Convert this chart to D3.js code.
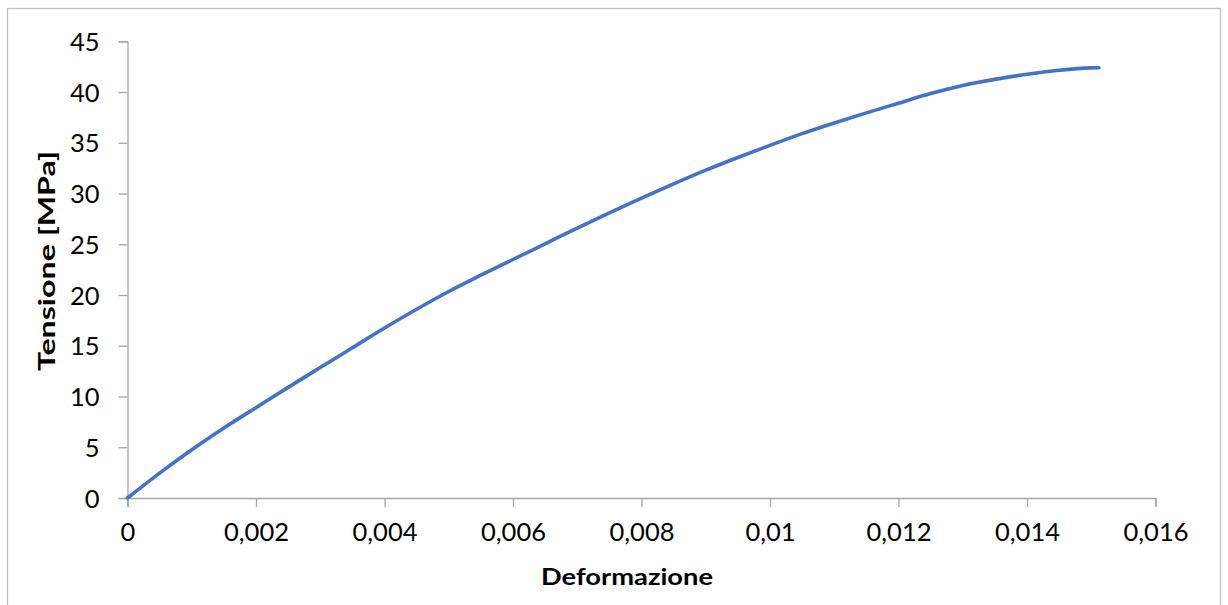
<!DOCTYPE html>
<html>
<head>
<meta charset="utf-8">
<script src="https://cdn.jsdelivr.net/npm/d3@7"></script>
<style>
  html, body { margin: 0; padding: 0; background: #fff; }
  svg { display: block; }
  text { font-family: Lato, "Open Sans", sans-serif; fill: #000; }
</style>
</head>
<body>
<svg id="chart" width="1228" height="605"></svg>
<script>
// Strain (Deformazione) and stress (Tensione, MPa) of the tensile test
const strain = [0, 0.0005, 0.001, 0.0015, 0.002, 0.0025, 0.003, 0.0035, 0.004, 0.0045,
  0.005, 0.0055, 0.006, 0.0065, 0.007, 0.0075, 0.008, 0.0085, 0.009, 0.0095,
  0.01, 0.0105, 0.011, 0.0115, 0.012, 0.0125, 0.013, 0.0135, 0.014, 0.0145,
  0.015, 0.01512];
const stress = [0, 2.45, 4.75, 6.9, 8.9, 10.9, 12.85, 14.8, 16.75, 18.6,
  20.35, 21.95, 23.5, 25.05, 26.6, 28.1, 29.55, 30.95, 32.3, 33.55,
  34.75, 35.9, 36.95, 37.95, 38.9, 39.85, 40.65, 41.25, 41.75, 42.15,
  42.38, 42.39];

const xTicks = [0, 0.002, 0.004, 0.006, 0.008, 0.01, 0.012, 0.014, 0.016];
const yTicks = [0, 5, 10, 15, 20, 25, 30, 35, 40, 45];
const xTitle = "Deformazione";
const yTitle = "Tensione [MPa]";

const svg = d3.select("#chart");
const axisColor = "#a6a6a6";

// Outer chart frame
svg.append("rect")
  .attr("x", 7.5).attr("y", 8.5)
  .attr("width", 1213).attr("height", 620)
  .attr("fill", "none").attr("stroke", "#bfbfbf").attr("stroke-width", 1.3);

const x = d3.scaleLinear().domain([0, 0.016]).range([127.5, 1155.5]);
const y = d3.scaleLinear().domain([0, 45]).range([498, 41.3]);

const fmt = d => d === 0 ? "0" : String(+d.toFixed(3)).replace(".", ",");

// X axis
const gx = svg.append("g")
  .attr("transform", `translate(0,${y(0)})`)
  .call(d3.axisBottom(x).tickValues(xTicks).tickSize(9).tickPadding(16).tickFormat(fmt));
// Y axis
const gy = svg.append("g")
  .attr("transform", `translate(${x(0)},0)`)
  .call(d3.axisLeft(y).tickValues(yTicks).tickSize(9).tickPadding(19).tickFormat(d => String(d)));

[gx, gy].forEach(g => {
  g.select(".domain").attr("stroke", axisColor).attr("stroke-width", 1.3);
  g.selectAll(".tick line").attr("stroke", axisColor).attr("stroke-width", 1.3);
  g.selectAll(".tick text")
    .attr("font-family", "Lato, 'Open Sans', sans-serif")
    .attr("font-size", 25.5).attr("fill", "#000");
});
gy.selectAll(".tick text").attr("dy", "0.36em");

// Axis titles
svg.append("text")
  .attr("x", 627).attr("y", 585)
  .attr("text-anchor", "middle")
  .attr("font-family", "'Open Sans', Lato, sans-serif")
  .attr("font-size", 23).attr("font-weight", "bold")
  .attr("textLength", 172).attr("lengthAdjust", "spacingAndGlyphs")
  .text(xTitle);

svg.append("text")
  .attr("transform", "translate(55,261) rotate(-90)")
  .attr("text-anchor", "middle")
  .attr("font-family", "'Open Sans', Lato, sans-serif")
  .attr("font-size", 23).attr("font-weight", "bold")
  .attr("textLength", 220).attr("lengthAdjust", "spacingAndGlyphs")
  .text(yTitle);

// Stress–strain curve
const pts = strain.map((s, i) => [s, stress[i]]);
svg.append("path")
  .datum(pts)
  .attr("fill", "none")
  .attr("stroke", "#4472c4")
  .attr("stroke-width", 3.6)
  .attr("stroke-linecap", "round")
  .attr("stroke-linejoin", "round")
  .attr("d", d3.line().x(d => x(d[0])).y(d => y(d[1])).curve(d3.curveMonotoneX));
</script>
</body>
</html>
